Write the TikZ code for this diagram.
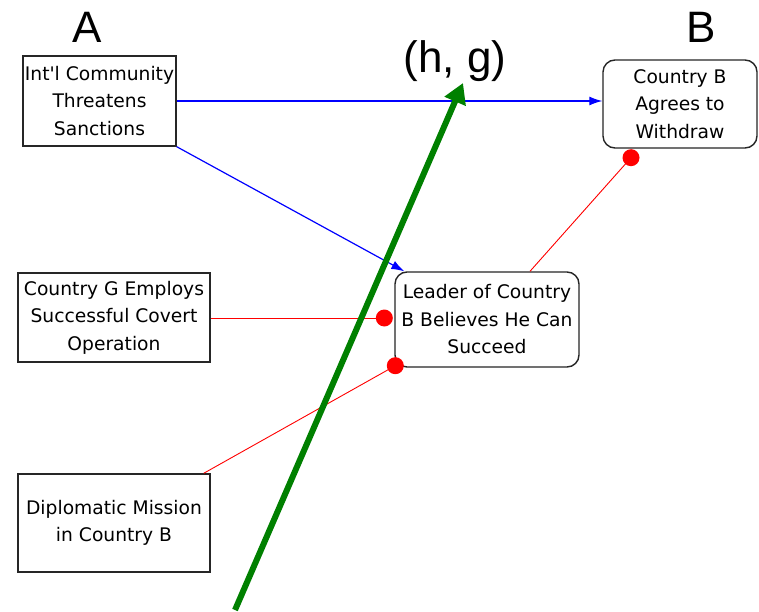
\documentclass[tikz,border=0pt]{standalone}
\usepackage{fontspec}
\setmainfont{Liberation Sans}
\newfontfamily\boxfont{DejaVu Sans}
\usetikzlibrary{arrows.meta}
\definecolor{linkblue}{RGB}{0,0,255}
\definecolor{linkred}{RGB}{255,0,0}
\definecolor{pathgreen}{RGB}{0,128,0}
\tikzset{
  factor/.style={draw=black!85, line width=1.4pt, align=center, inner sep=0pt,
    font=\boxfont\fontsize{18.7}{27.5}\selectfont},
  goal/.style={factor, rounded corners=12pt},
  promote/.style={draw=linkblue, line width=1.2pt, -{Latex[length=13pt,width=9pt]}},
  inhibit/.style={draw=linkred, line width=0.9pt},
  blob/.style={fill=linkred, draw=none},
  bigletter/.style={font=\fontsize{44}{50}\selectfont, inner sep=0pt},
}
\begin{document}
\begin{tikzpicture}[x=1pt, y=-1pt]
\useasboundingbox[fill=white] (0,0) rectangle (759,612);

% factor boxes
\node[factor, minimum width=153pt, minimum height=90pt] (sanc) at (99.5,101)
  {Int'l Community\\Threatens\\Sanctions};
\node[goal, minimum width=154pt, minimum height=88pt] (withdraw) at (680,104)
  {Country B\\Agrees to\\Withdraw};
\node[goal, minimum width=184pt, minimum height=95pt] (leader) at (487,319.5)
  {Leader of Country\\B Believes He Can\\Succeed};
\node[factor, minimum width=192pt, minimum height=89pt] (covert) at (114,317.5)
  {Country G Employs\\Successful Covert\\Operation};
\node[factor, minimum width=192pt, minimum height=98pt] (mission) at (114,523)
  {Diplomatic Mission\\in Country B};

% end labels
\node[bigletter] (labA) at (87,27) {A};
\node[bigletter] (labB) at (701,27) {B};
\node[bigletter, anchor=base] (labHG) at (455,73) {(h, g)};

% promoting links
\draw[promote] (sanc.east) -- (sanc.east -| withdraw.west);
\draw[promote] (sanc.south east) -- ([xshift=10pt]leader.north west);

% inhibiting links with round ends
\coordinate (dotG) at ([xshift=-10pt, yshift=1.5pt]leader.west);
\draw[inhibit] (covert.east |- dotG) -- (dotG);
\fill[blob] (dotG) circle (8.5pt);

\coordinate (dotD) at ([xshift=1pt, yshift=2pt]leader.south west);
\draw[inhibit] ([xshift=-7pt]mission.north east) -- (dotD);
\fill[blob] (dotD) circle (8.5pt);

\coordinate (dotW) at ([xshift=-49pt, yshift=-9pt]withdraw.south);
\draw[inhibit] ([xshift=43pt]leader.north) -- (dotW);
\fill[blob] (dotW) circle (8.5pt);

% highlighted path arrow
\coordinate (gTail) at (235,610);
\coordinate (gTip) at (463,83);
\draw[pathgreen, line width=6pt, -{Triangle[length=20pt,width=22pt]}] (gTail) -- (gTip);
\end{tikzpicture}
\end{document}
